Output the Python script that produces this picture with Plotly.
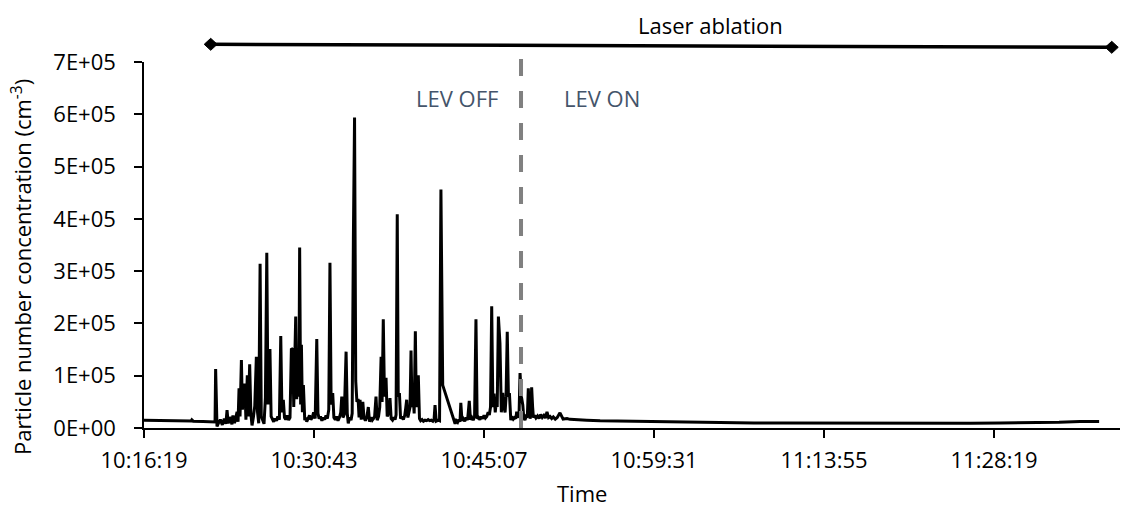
import pandas as pd
import plotly.graph_objects as go

# ---------------- data ----------------
start_time = "2021-01-01 10:16:19"

t_sec = [
    0, 40, 90, 132, 180, 239, 243, 250, 300, 361,
    364, 367, 371, 378, 388, 398, 408, 416, 422, 428,
    436, 447, 452, 460, 467, 473, 478, 483, 488, 495,
    500, 505, 512, 518, 525, 530, 537, 543, 549, 556,
    563, 571, 577, 583, 590, 596, 603, 610, 617, 624,
    630, 635, 640, 646, 652, 659, 666, 673, 680, 688,
    695, 701, 708, 714, 720, 728, 735, 742, 749, 756,
    761, 766, 771, 776, 782, 787, 791, 796, 800, 805,
    810, 817, 822, 827, 834, 841, 848, 855, 862, 870,
    878, 884, 890, 897, 904, 911, 918, 925, 932, 939,
    945, 951, 959, 965, 972, 979, 986, 993, 1000, 1005,
    1011, 1018, 1027, 1033, 1038, 1045, 1052, 1058, 1064, 1070,
    1076, 1082, 1088, 1093, 1098, 1104, 1112, 1118, 1125, 1133,
    1140, 1146, 1153, 1160, 1166, 1172, 1179, 1185, 1192, 1198,
    1205, 1210, 1216, 1222, 1230, 1236, 1243, 1250, 1256, 1263,
    1270, 1276, 1281, 1287, 1292, 1298, 1304, 1311, 1318, 1325,
    1330, 1335, 1341, 1347, 1352, 1357, 1362, 1368, 1373, 1379,
    1384, 1389, 1394, 1400, 1406, 1413, 1420, 1428, 1436, 1444,
    1452, 1460, 1468, 1474, 1479, 1485, 1490, 1496, 1502, 1509,
    1518, 1581, 1587, 1594, 1600, 1606, 1610, 1616, 1622, 1630,
    1637, 1644, 1648, 1653, 1659, 1666, 1673, 1680, 1687, 1693,
    1700, 1707, 1714, 1721, 1728, 1735, 1742, 1749, 1755, 1761,
    1767, 1773, 1779, 1785, 1790, 1795, 1801, 1809, 1816, 1823,
    1829, 1835, 1840, 1846, 1852, 1857, 1864, 1870, 1877, 1884,
    1890, 1894, 1900, 1906, 1911, 1918, 1925, 1930, 1936, 1942,
    1948, 1953, 1958, 1962, 1966, 1970, 1975, 1979, 1985, 1992,
    2000, 2008, 2016, 2024, 2032, 2040, 2048, 2056, 2064, 2072,
    2080, 2090, 2100, 2114, 2130, 2150, 2165, 2200, 2250, 2318,
    2400, 2480, 2546, 2650, 2750, 2826, 2950, 3100, 3250, 3456,
    3650, 3842, 4000, 4200, 4351, 4500, 4650, 4757, 4800, 4854,
]

conc = [
    15000, 14800, 14500, 14200, 13800, 13200, 15500, 13000, 12500, 11500,
    113000, 60000, 3000, 9000, 16000, 6000, 18000, 8000, 34000, 9000,
    21000, 7000, 24000, 9000, 20000, 31000, 12000, 76000, 22000, 130000,
    35000, 62000, 85000, 16000, 101000, 22000, 122000, 28000, 5000, 21000,
    42000, 136000, 30000, 9000, 314000, 22000, 14000, 8000, 58000, 335000,
    45000, 90000, 151000, 22000, 16000, 12000, 18000, 14000, 22000, 16000,
    176000, 30000, 54000, 20000, 16000, 24000, 15000, 20000, 152000, 150000,
    40000, 110000, 213000, 55000, 120000, 60000, 345000, 45000, 159000, 30000,
    82000, 15000, 20000, 12000, 18000, 24000, 16000, 20000, 30000, 18000,
    170000, 28000, 18000, 22000, 14000, 20000, 16000, 24000, 18000, 35000,
    316000, 45000, 67000, 20000, 16000, 22000, 14000, 20000, 30000, 60000,
    20000, 26000, 146000, 28000, 9000, 20000, 15000, 28000, 360000, 594000,
    90000, 50000, 56000, 20000, 54000, 16000, 50000, 20000, 14000, 22000,
    40000, 12000, 20000, 15000, 18000, 22000, 60000, 15000, 22000, 40000,
    136000, 50000, 208000, 60000, 96000, 22000, 28000, 57000, 18000, 15000,
    20000, 16000, 25000, 409000, 60000, 67000, 18000, 22000, 16000, 24000,
    38000, 54000, 20000, 30000, 40000, 148000, 40000, 60000, 28000, 185000,
    40000, 60000, 101000, 18000, 14000, 16000, 13000, 15000, 14000, 16000,
    14000, 15000, 13000, 16000, 44000, 13000, 14000, 15000, 14000, 456000,
    82000, 8000, 14000, 11000, 16000, 12000, 48000, 14000, 18000, 13000,
    20000, 15000, 30000, 52000, 16000, 20000, 15000, 22000, 208000, 18000,
    20000, 16000, 22000, 18000, 24000, 19000, 22000, 30000, 25000, 40000,
    233000, 40000, 66000, 30000, 50000, 40000, 213000, 162000, 30000, 67000,
    40000, 30000, 60000, 184000, 60000, 67000, 15000, 22000, 17000, 20000,
    18000, 31000, 20000, 25000, 105000, 60000, 44000, 20000, 15000, 22000,
    20000, 76000, 40000, 18000, 25000, 78000, 40000, 20000, 24000, 19000,
    23000, 18000, 26000, 20000, 24000, 19000, 31000, 20000, 22000, 18000,
    21000, 17000, 20000, 29000, 17000, 18000, 16500, 15500, 15000, 14000,
    13500, 13000, 12500, 11500, 11000, 10500, 10000, 9800, 9500, 9200,
    9000, 9000, 9000, 9200, 9500, 10000, 11000, 12500, 12000, 12500,
]

x_tick_labels = ["10:16:19", "10:30:43", "10:45:07", "10:59:31", "11:13:55", "11:28:19"]
x_tick_step_sec = 864
x_max_sec = 4960

y_tick_values = [0, 100000, 200000, 300000, 400000, 500000, 600000, 700000]
y_tick_labels = ["0E+00", "1E+05", "2E+05", "3E+05", "4E+05", "5E+05", "6E+05", "7E+05"]

lev_switch_sec = 1916
ablation_start_sec = 339
ablation_end_sec = 4918
ablation_level = [733800, 728100]

# ---------------- figure ----------------
t0 = pd.Timestamp(start_time)
to_time = lambda s: t0 + pd.Timedelta(seconds=s)
times = [to_time(s) for s in t_sec]
Y_MAX = 700000

FONT = "Open Sans"
FS = 22
fig = go.Figure()
fig.add_trace(go.Scatter(
    x=times, y=conc, mode="lines",
    line=dict(color="black", width=3),
    showlegend=False, hoverinfo="skip",
))
# ablation arrow line
fig.add_shape(type="line", xref="x", yref="paper",
              x0=to_time(ablation_start_sec), x1=to_time(ablation_end_sec),
              y0=ablation_level[0] / Y_MAX, y1=ablation_level[1] / Y_MAX,
              line=dict(color="black", width=3.5), layer="above")
for s, lv in zip([ablation_start_sec, ablation_end_sec], ablation_level):
    fig.add_shape(type="path", xref="x", yref="paper",
                  xsizemode="pixel", ysizemode="pixel",
                  xanchor=to_time(s), yanchor=lv / Y_MAX,
                  path="M -6.5 0 L 0 6 L 6.5 0 L 0 -6 Z",
                  fillcolor="black", line=dict(color="black", width=1), layer="above")
# LEV switch dashed line
fig.add_shape(type="line", xref="x", yref="paper",
              x0=to_time(lev_switch_sec), x1=to_time(lev_switch_sec),
              y0=0, y1=1.0137,
              line=dict(color="#808080", width=4, dash="17px,15px"), layer="above")

fig.add_annotation(x=to_time(1591), y=631000, xref="x", yref="y", text="LEV OFF",
                   xanchor="center", yanchor="middle",
                   showarrow=False, font=dict(family=FONT, size=FS, color="#44546A"))
fig.add_annotation(x=to_time(2328), y=631000, xref="x", yref="y", text="LEV ON",
                   xanchor="center", yanchor="middle",
                   showarrow=False, font=dict(family=FONT, size=FS, color="#44546A"))
fig.add_annotation(x=to_time(2877), y=1.101, xref="x", yref="paper", text="Laser ablation",
                   xanchor="center", yanchor="middle",
                   showarrow=False, font=dict(family=FONT, size=FS, color="black"))
fig.add_annotation(x=-0.125, y=0.44, xref="paper", yref="paper",
                   text="Particle number concentration (cm<sup>-3</sup>)", textangle=-90,
                   xanchor="center", yanchor="middle",
                   showarrow=False, font=dict(family=FONT, size=FS, color="black"))
fig.add_annotation(x=to_time(2225), y=-0.1776, xref="x", yref="paper", text="Time",
                   xanchor="center", yanchor="middle",
                   showarrow=False, font=dict(family=FONT, size=FS, color="black"))

fig.update_layout(
    width=1121, height=507,
    margin=dict(l=144, r=1, t=62, b=79),
    paper_bgcolor="white", plot_bgcolor="white",
    font=dict(family=FONT, size=FS, color="black"),
    showlegend=False,
    xaxis=dict(
        type="date",
        range=[t0, to_time(x_max_sec)],
        tickvals=[to_time(i * x_tick_step_sec) for i in range(len(x_tick_labels))],
        ticktext=x_tick_labels,
        ticks="outside", ticklen=8, tickwidth=1.5, tickcolor="black",
        ticklabelstandoff=4,
        showline=True, linecolor="black", linewidth=1.5,
        showgrid=False, zeroline=False,
        tickfont=dict(family=FONT, size=FS, color="black"),
    ),
    yaxis=dict(
        range=[0, Y_MAX],
        tickvals=y_tick_values, ticktext=y_tick_labels,
        ticks="outside", ticklen=8, tickwidth=1.5, tickcolor="black",
        ticklabelstandoff=14,
        showline=True, linecolor="black", linewidth=1.5,
        showgrid=False, zeroline=False,
        tickfont=dict(family=FONT, size=FS, color="black"),
    ),
)

fig.write_html("out.html")
